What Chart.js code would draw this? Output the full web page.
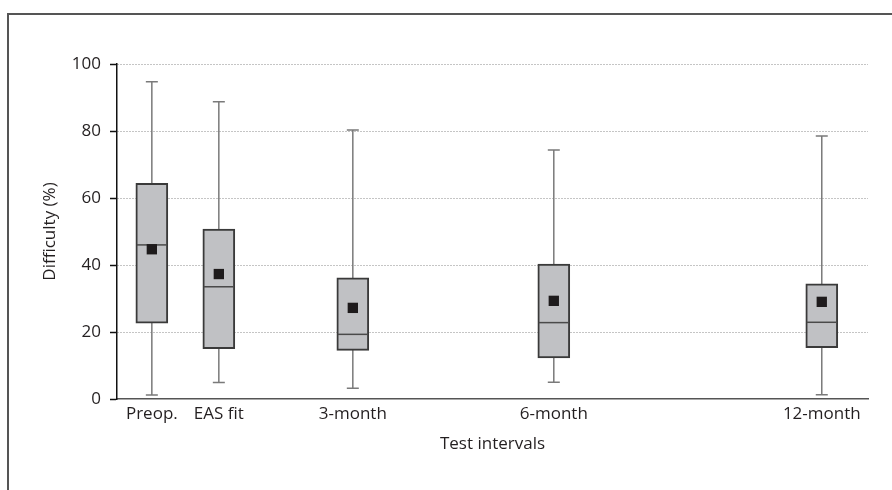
<!DOCTYPE html>
<html>
<head>
<meta charset="utf-8">
<script src="https://cdn.jsdelivr.net/npm/chart.js@4.4.1/dist/chart.umd.min.js"></script>
<style>
  html, body { margin: 0; padding: 0; background: #fff; }
  #wrap { width: 892px; height: 490px; position: relative; }
</style>
</head>
<body>
<div id="wrap"><canvas id="c" width="892" height="490"></canvas></div>
<script>
const categories = ['Preop.', 'EAS fit', '3-month', '6-month', '12-month'];
const positions = [0, 1, 3, 6, 10];
const whiskerMin = [1.2, 4.9, 3.2, 5.0, 1.3];
const q1Values = [22.6, 15.0, 14.5, 12.3, 15.3];
const medianValues = [46.0, 33.5, 19.3, 22.8, 22.9];
const q3Values = [64.4, 50.7, 36.2, 40.3, 34.4];
const whiskerMax = [94.7, 88.7, 80.3, 74.3, 78.5];
const meanValues = [44.7, 37.3, 27.2, 29.3, 29.0];
const yTicks = [0, 20, 40, 60, 80, 100];

const FONT = "'Open Sans', 'DejaVu Sans', sans-serif";

const framePlugin = {
  id: 'frame',
  beforeDraw(chart) {
    const ctx = chart.ctx;
    ctx.save();
    ctx.strokeStyle = '#555';
    ctx.lineWidth = 2;
    ctx.beginPath();
    ctx.moveTo(8, 490);
    ctx.lineTo(8, 14);
    ctx.lineTo(892, 14);
    ctx.stroke();
    ctx.restore();
  }
};

const boxPlugin = {
  id: 'boxparts',
  beforeDatasetsDraw(chart) {
    const ctx = chart.ctx, xs = chart.scales.x, ys = chart.scales.y;
    ctx.save();
    ctx.strokeStyle = '#7a7a7a';
    ctx.lineWidth = 1.5;
    positions.forEach((p, i) => {
      const x = xs.getPixelForValue(p);
      const yMin = ys.getPixelForValue(whiskerMin[i]);
      const yMax = ys.getPixelForValue(whiskerMax[i]);
      ctx.beginPath();
      ctx.moveTo(x, yMin); ctx.lineTo(x, yMax);
      ctx.moveTo(x - 6, yMin); ctx.lineTo(x + 6, yMin);
      ctx.moveTo(x - 6, yMax); ctx.lineTo(x + 6, yMax);
      ctx.stroke();
    });
    ctx.restore();
  },
  afterDatasetDraw(chart, args) {
    if (args.index !== 0) return;
    const ctx = chart.ctx, xs = chart.scales.x, ys = chart.scales.y;
    ctx.save();
    ctx.strokeStyle = '#4a4a4a';
    ctx.lineWidth = 1.5;
    positions.forEach((p, i) => {
      const x = xs.getPixelForValue(p);
      const y = ys.getPixelForValue(medianValues[i]);
      ctx.beginPath();
      ctx.moveTo(x - 15, y); ctx.lineTo(x + 15, y);
      ctx.stroke();
    });
    ctx.restore();
  }
};

new Chart(document.getElementById('c'), {
  type: 'bar',
  data: {
    datasets: [
      {
        type: 'bar',
        label: 'IQR',
        data: positions.map((p, i) => ({ x: p, y: [q1Values[i], q3Values[i]] })),
        backgroundColor: '#c0c1c4',
        borderColor: '#3a3a3a',
        borderWidth: 2,
        borderSkipped: false,
        barThickness: 32,
        order: 2
      },
      {
        type: 'scatter',
        label: 'Mean',
        data: positions.map((p, i) => ({ x: p, y: meanValues[i] })),
        pointStyle: 'rect',
        pointRadius: 7.3,
        pointHoverRadius: 7.3,
        backgroundColor: '#1e1b1c',
        borderColor: '#1e1b1c',
        borderWidth: 0,
        order: 1
      }
    ]
  },
  options: {
    responsive: false,
    animation: false,
    events: [],
    layout: { padding: { left: 0, right: 24, top: 64, bottom: 0 } },
    plugins: { legend: { display: false }, tooltip: { enabled: false } },
    scales: {
      x: {
        type: 'linear',
        min: -0.52,
        max: 10.69,
        offset: false,
        afterBuildTicks(scale) { scale.ticks = positions.map(v => ({ value: v })); },
        afterFit(scale) { scale.height = 91; },
        ticks: {
          autoSkip: false,
          maxRotation: 0,
          padding: 5,
          color: '#231f20',
          font: { family: FONT, size: 17 },
          callback(value) { const i = positions.indexOf(value); return i >= 0 ? categories[i] : ''; }
        },
        grid: { display: false, drawTicks: false },
        border: { display: true, color: '#555', width: 1.5 },
        title: {
          display: true,
          text: 'Test intervals',
          color: '#231f20',
          font: { family: FONT, size: 17 },
          padding: { top: 0, bottom: 36 }
        }
      },
      y: {
        type: 'linear',
        min: 0,
        max: 100,
        afterBuildTicks(scale) { scale.ticks = yTicks.map(v => ({ value: v })); },
        afterFit(scale) { scale.width = 117; },
        ticks: {
          padding: 9,
          color: '#231f20',
          font: { family: FONT, size: 17 }
        },
        grid: {
          display: true,
          drawTicks: true,
          tickLength: 7,
          tickColor: '#111',
          tickWidth: 1.5,
          tickBorderDash: [],
          color: ctx => (ctx.tick && ctx.tick.value === 0) ? 'rgba(0,0,0,0)' : '#8a8a8a',
          lineWidth: 1
        },
        border: { display: true, color: '#111', width: 1.5, dash: [1, 2] },
        title: {
          display: true,
          text: 'Difficulty (%)',
          color: '#231f20',
          font: { family: FONT, size: 17 },
          padding: { top: 40, bottom: 0 }
        }
      }
    }
  },
  plugins: [framePlugin, boxPlugin]
});
</script>
</body>
</html>
